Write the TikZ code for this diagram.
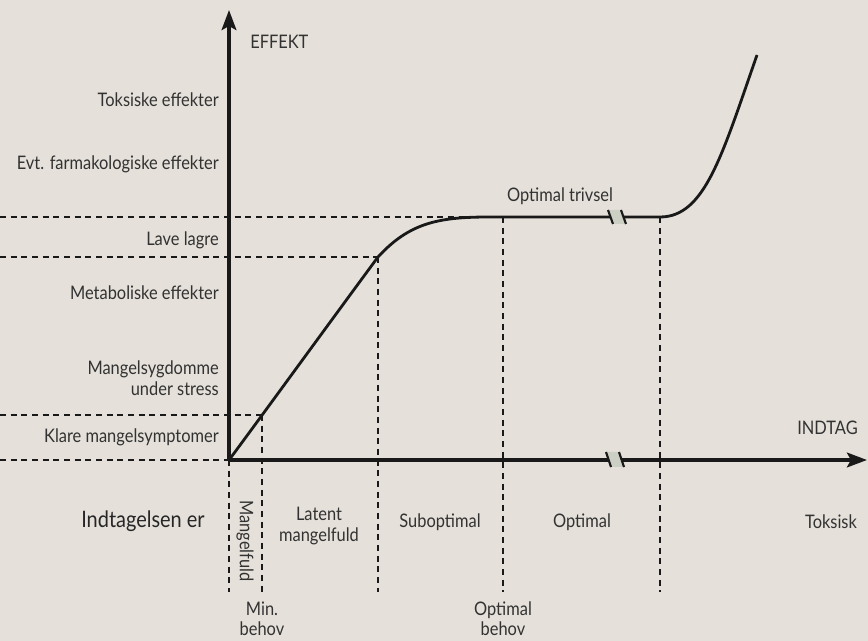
\documentclass[tikz,border=0pt]{standalone}
\usepackage{fontspec}
\setmainfont[FakeStretch=0.88]{Lato}
\usetikzlibrary{arrows.meta}

\definecolor{bgcol}{RGB}{229,225,218}
\definecolor{brkcol}{RGB}{204,207,196}
\definecolor{txtcol}{RGB}{50,50,50}
\definecolor{lincol}{RGB}{25,25,25}

\tikzset{
  lbl/.style={inner sep=0.75pt, text=txtcol, font=\fontsize{14}{16}\selectfont},
  lft/.style={lbl, anchor=east, align=right},
  guide/.style={draw=lincol, line width=1.1pt, dash pattern=on 4.5pt off 3.5pt},
  axis/.style={draw=lincol, line width=2.8pt},
  curve/.style={draw=lincol, line width=2.1pt},
}

\begin{document}
\begin{tikzpicture}[x=0.75pt,y=0.75pt,yscale=-1,xscale=1]
%background and size
\fill[bgcol] (0,0) rectangle (868,641);
\useasboundingbox (0,0) rectangle (868,641);

%Coordinates
\coordinate (O) at (229,460);
\coordinate (ytop) at (229,10);
\coordinate (xend) at (867,460);
\coordinate (minb) at (262,415);
\coordinate (lave) at (378,257);
\coordinate (flat) at (490,217);
\coordinate (optb) at (503,217);
\coordinate (optr) at (660,217);
\coordinate (toks) at (757,55);

%Horizontal guides
\draw[guide] (0,460) -- (O);
\draw[guide] (0,415) -- (minb);
\draw[guide] (0,257) -- (lave);
\draw[guide] (0,217) -- (flat);

%Vertical guides
\draw[guide] (O) -- (229,592);
\draw[guide] (minb) -- (262,592);
\draw[guide] (lave) -- (378,592);
\draw[guide] (optb) -- (503,592);
\draw[guide] (optr) -- (660,592);

%Effect curve
\draw[curve] (O) .. controls (250,432) and (330,322) .. (lave) .. controls (410,222) and (440,217) .. (flat) -- (optr) .. controls (705,217) and (722,155) .. (toks);

%Axes
\draw[axis, -{Stealth[length=15pt,width=11pt,inset=3pt]}] (O) -- (ytop);
\draw[axis, -{Stealth[length=15pt,width=11pt,inset=3pt]}] (O) -- (xend);

%Breaks
\fill[brkcol] (608,210) -- (621,210) -- (626,224) -- (613,224) -- cycle;
\draw[lincol, line width=1.6pt] (608,210) -- (613,224);
\draw[lincol, line width=1.6pt] (621,210) -- (626,224);
\fill[brkcol] (606,452) -- (619,452) -- (624,467) -- (611,467) -- cycle;
\draw[lincol, line width=1.6pt] (606,452) -- (611,467);
\draw[lincol, line width=1.6pt] (619,452) -- (624,467);

%Axis labels
\node[lbl, anchor=west] (effekt) at (249,42) {EFFEKT};
\node[lbl, anchor=east] (indtag) at (859,428) {INDTAG};
\node[lbl] (trivsel) at (560,196) {Optimal trivsel};

%Effect levels
\node[lft] (tox) at (220,100) {Toksiske effekter};
\node[lft] (farm) at (220,164) {Evt. farmakologiske effekter};
\node[lft] (lagre) at (220,240) {Lave lagre};
\node[lft] (metab) at (220,293) {Metaboliske effekter};
\node[lft] (stress) at (220,378) {Mangelsygdomme\\under stress};
\node[lft] (klare) at (220,437) {Klare mangelsymptomer};

%Intake zones
\node[lbl, anchor=east, text=black!85, font=\fontsize{17}{19}\selectfont] (indt) at (206,521) {Indtagelsen er};
\node[lbl, rotate=-90] (mangel) at (245,541) {Mangelfuld};
\node[lbl, align=center] (latent) at (319,526) {Latent\\mangelfuld};
\node[lbl] (subopt) at (440,522) {Suboptimal};
\node[lbl] (opt) at (582,522) {Optimal};
\node[lbl] (toksisk) at (831,522) {Toksisk};

%Requirement marks
\node[lbl, align=center, font=\fontsize{14}{15}\selectfont] (minbehov) at (262,619) {Min.\\behov};
\node[lbl, align=center, font=\fontsize{14}{15}\selectfont] (optbehov) at (503,619) {Optimal\\behov};
\end{tikzpicture}
\end{document}
